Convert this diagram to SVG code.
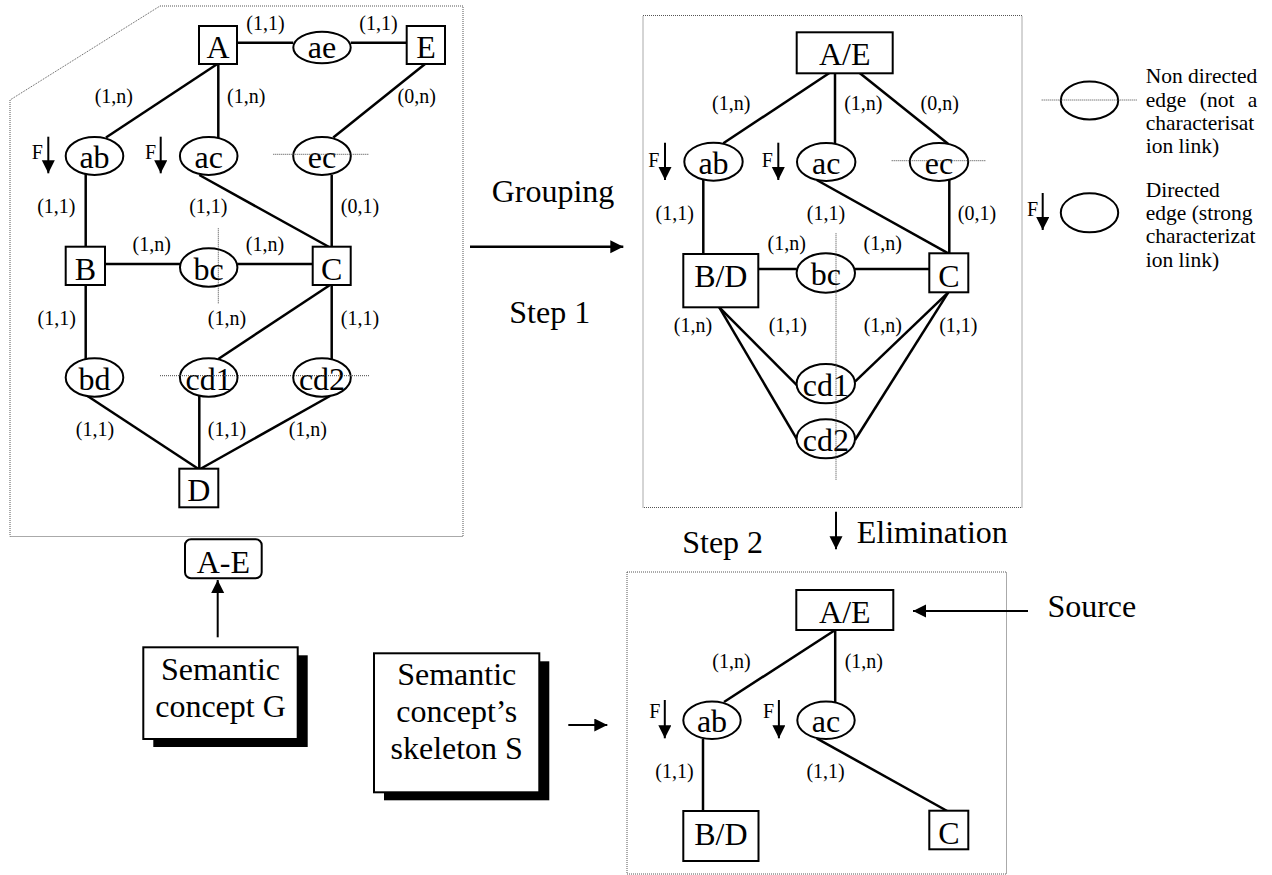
<svg xmlns="http://www.w3.org/2000/svg" width="1272" height="875" viewBox="0 0 1272 875">
  <style>
    text { font-family: "Liberation Serif", "Times New Roman", serif; fill: #000; }
    .lbl { font-size: 32px; text-anchor: middle; }
    .big { font-size: 32px; }
    .card { font-size: 20px; text-anchor: middle; }
    .f { font-size: 20px; }
    .leg { font-size: 21.5px; }
    .ent { fill: #fff; stroke: #000; stroke-width: 2; }
    .rel { fill: #fff; stroke: #000; stroke-width: 2; }
    .edge { stroke: #000; stroke-width: 2.5; fill: none; }
    .arrow { stroke: #000; stroke-width: 2; fill: none; marker-end: url(#head); }
    .dot { stroke: #444; stroke-width: 1; stroke-dasharray: 1 1; fill: none; }
    .frame { stroke: #555; stroke-width: 1; stroke-dasharray: 1 1; fill: none; }
  </style>
  <defs>
    <marker id="head" markerUnits="userSpaceOnUse" markerWidth="14" markerHeight="14" refX="13" refY="6.5" orient="auto">
      <path d="M0,0 L13,6.5 L0,13 z" fill="#000"/>
    </marker>
  </defs>

  <rect width="1272" height="875" fill="#fff"/>

  <!-- panel frames -->
  <g id="frames">
    <polygon class="frame" points="160,6 463,6 463,536.5 10,536.5 10,100"/>
    <rect class="frame" x="643" y="15.5" width="379" height="492"/>
    <rect class="frame" x="627" y="572" width="379.5" height="302"/>
  </g>

  <!-- connectors -->
  <g id="connectors">
    <!-- graph G -->
    <line class="edge" x1="237" y1="42.7" x2="293.3" y2="42.7"/>
    <line class="edge" x1="350.7" y1="42.7" x2="406.7" y2="42.7"/>
    <line class="edge" x1="217.3" y1="64" x2="106" y2="137.5"/>
    <line class="edge" x1="218.3" y1="64" x2="218.3" y2="138"/>
    <line class="edge" x1="425" y1="64" x2="333.3" y2="137.5"/>
    <line class="edge" x1="85.7" y1="174" x2="85.7" y2="246.7"/>
    <line class="edge" x1="199.3" y1="175" x2="330" y2="247.5"/>
    <line class="edge" x1="331.7" y1="175" x2="331.7" y2="247"/>
    <line class="edge" x1="105" y1="264" x2="180" y2="264"/>
    <line class="edge" x1="237.3" y1="264" x2="312.7" y2="264"/>
    <line class="edge" x1="85.7" y1="285" x2="85.7" y2="359"/>
    <line class="edge" x1="330" y1="285" x2="218.3" y2="359"/>
    <line class="edge" x1="331.7" y1="285" x2="331.7" y2="359"/>
    <line class="edge" x1="86" y1="395" x2="199.3" y2="469.5"/>
    <line class="edge" x1="199.3" y1="396" x2="199.3" y2="469"/>
    <line class="edge" x1="330" y1="396" x2="199.3" y2="469.5"/>

    <!-- grouped graph -->
    <line class="edge" x1="835" y1="69.3" x2="723.3" y2="143.3"/>
    <line class="edge" x1="835" y1="73" x2="835" y2="144"/>
    <line class="edge" x1="855" y1="69.3" x2="948.3" y2="144"/>
    <line class="edge" x1="703.3" y1="180" x2="703.3" y2="254"/>
    <line class="edge" x1="816.7" y1="180" x2="948.3" y2="253.3"/>
    <line class="edge" x1="949.3" y1="180" x2="949.3" y2="253.3"/>
    <line class="edge" x1="758.3" y1="269" x2="796.7" y2="269"/>
    <line class="edge" x1="855" y1="269" x2="929.3" y2="269"/>
    <line class="edge" x1="719.3" y1="307.3" x2="798.3" y2="386.7"/>
    <line class="edge" x1="719.3" y1="307.3" x2="798.3" y2="441.7"/>
    <line class="edge" x1="948.3" y1="292.3" x2="855" y2="381.7"/>
    <line class="edge" x1="948.3" y1="292.3" x2="855" y2="440"/>

    <!-- skeleton -->
    <line class="edge" x1="835.2" y1="630" x2="724" y2="702"/>
    <line class="edge" x1="835.2" y1="630" x2="835.2" y2="702"/>
    <line class="edge" x1="703" y1="739" x2="703" y2="811"/>
    <line class="edge" x1="816.7" y1="738.3" x2="948.1" y2="811.5"/>

    <!-- process arrows -->
    <line class="arrow" x1="470" y1="246.7" x2="623.3" y2="246.7" style="stroke-width:2.5"/>
    <line class="arrow" x1="836" y1="511.7" x2="836" y2="549.3"/>
    <line class="arrow" x1="1028" y1="611" x2="913" y2="611"/>
    <line class="arrow" x1="568.3" y1="725" x2="607.3" y2="725"/>
    <line class="arrow" x1="217.7" y1="637.3" x2="217.7" y2="580"/>

    <!-- F (strong characterisation) arrows -->
    <line class="arrow" x1="48.3" y1="136.7" x2="48.3" y2="173.3"/>
    <line class="arrow" x1="160.7" y1="136.7" x2="160.7" y2="173.3"/>
    <line class="arrow" x1="665" y1="142.7" x2="665" y2="180"/>
    <line class="arrow" x1="778.3" y1="142.7" x2="778.3" y2="180"/>
    <line class="arrow" x1="664.8" y1="700" x2="664.8" y2="738.3"/>
    <line class="arrow" x1="778.9" y1="700" x2="778.9" y2="738.3"/>
    <line class="arrow" x1="1042.7" y1="193" x2="1042.7" y2="230"/>
  </g>

  <!-- graph G nodes -->
  <g id="g-A"><rect class="ent" x="199" y="26" width="38" height="38"/><text class="lbl" x="218" y="58">A</text></g>
  <g id="g-ae"><ellipse class="rel" cx="322" cy="47.5" rx="28.7" ry="15.8"/><text class="lbl" x="322" y="58">ae</text></g>
  <g id="g-E"><rect class="ent" x="406.7" y="26" width="38.3" height="38"/><text class="lbl" x="426" y="58">E</text></g>
  <g id="g-ab"><ellipse class="rel" cx="94.5" cy="156" rx="28.8" ry="19"/><text class="lbl" x="94.5" y="168">ab</text></g>
  <g id="g-ac"><ellipse class="rel" cx="208.7" cy="156" rx="28.8" ry="19"/><text class="lbl" x="208.7" y="168">ac</text></g>
  <g id="g-ec"><ellipse class="rel" cx="322" cy="156" rx="28.8" ry="19"/><text class="lbl" x="322" y="168">ec</text></g>
  <g id="g-B"><rect class="ent" x="65.7" y="246.7" width="39.3" height="38.3"/><text class="lbl" x="85.3" y="280">B</text></g>
  <g id="g-bc"><ellipse class="rel" cx="208.7" cy="267.5" rx="28.7" ry="19.2"/><text class="lbl" x="208.7" y="279.5">bc</text></g>
  <g id="g-C"><rect class="ent" x="312.7" y="246.7" width="38" height="38.3"/><text class="lbl" x="331.7" y="280">C</text></g>
  <g id="g-bd"><ellipse class="rel" cx="94.5" cy="377.5" rx="28.8" ry="19.2"/><text class="lbl" x="94.5" y="389.5">bd</text></g>
  <g id="g-cd1"><ellipse class="rel" cx="208.7" cy="377.5" rx="28.8" ry="19.2"/><text class="lbl" x="208.7" y="389.5">cd1</text></g>
  <g id="g-cd2"><ellipse class="rel" cx="322" cy="377.5" rx="28.8" ry="19.2"/><text class="lbl" x="322" y="389.5">cd2</text></g>
  <g id="g-D"><rect class="ent" x="179.3" y="468.7" width="39" height="38.6"/><text class="lbl" x="198.8" y="501">D</text></g>

  <!-- grouped graph nodes -->
  <g id="s1-AE"><rect class="ent" x="796.7" y="32.3" width="96" height="41"/><text class="lbl" x="844.7" y="65">A/E</text></g>
  <g id="s1-ab"><ellipse class="rel" cx="713.5" cy="161.7" rx="29.2" ry="19"/><text class="lbl" x="713.5" y="173.7">ab</text></g>
  <g id="s1-ac"><ellipse class="rel" cx="826.2" cy="162" rx="29.2" ry="19"/><text class="lbl" x="826.2" y="174">ac</text></g>
  <g id="s1-ec"><ellipse class="rel" cx="939" cy="162" rx="29.2" ry="19"/><text class="lbl" x="939" y="174">ec</text></g>
  <g id="s1-BD"><rect class="ent" x="683.3" y="254" width="75" height="53.3"/><text class="lbl" x="720.8" y="287">B/D</text></g>
  <g id="s1-bc"><ellipse class="rel" cx="825.8" cy="273" rx="29.2" ry="19.7"/><text class="lbl" x="825.8" y="285">bc</text></g>
  <g id="s1-C"><rect class="ent" x="929.3" y="253.3" width="39" height="39"/><text class="lbl" x="948.8" y="286.5">C</text></g>
  <g id="s1-cd1"><ellipse class="rel" cx="825.8" cy="383.7" rx="29.2" ry="19.6"/><text class="lbl" x="825.8" y="395.7">cd1</text></g>
  <g id="s1-cd2"><ellipse class="rel" cx="825.8" cy="438.8" rx="29.2" ry="19.5"/><text class="lbl" x="825.8" y="450.8">cd2</text></g>

  <!-- skeleton nodes -->
  <g id="s2-AE"><rect class="ent" x="796.3" y="590" width="97" height="40"/><text class="lbl" x="844.8" y="622.7">A/E</text></g>
  <g id="s2-ab"><ellipse class="rel" cx="712" cy="720.3" rx="28.7" ry="18.7"/><text class="lbl" x="712" y="732">ab</text></g>
  <g id="s2-ac"><ellipse class="rel" cx="826" cy="720.3" rx="28.7" ry="18.7"/><text class="lbl" x="826" y="732">ac</text></g>
  <g id="s2-BD"><rect class="ent" x="683.3" y="811" width="75.2" height="50"/><text class="lbl" x="720.9" y="845">B/D</text></g>
  <g id="s2-C"><rect class="ent" x="929.3" y="810.7" width="39" height="38.6"/><text class="lbl" x="948.8" y="844">C</text></g>

  <!-- concept boxes -->
  <g id="concept-AE"><rect class="ent" x="185" y="539.3" width="76.7" height="39" rx="6"/><text class="lbl" x="223.3" y="572.5">A-E</text></g>
  <g id="concept-G">
    <rect x="153.3" y="655.3" width="154.4" height="91.7" fill="#000"/>
    <rect class="ent" x="143.3" y="647.3" width="154.4" height="91.7"/>
    <text class="lbl" x="220.5" y="680">Semantic</text>
    <text class="lbl" x="220.5" y="716.7">concept G</text>
  </g>
  <g id="skeleton-S">
    <rect x="384" y="661.3" width="165.3" height="139" fill="#000"/>
    <rect class="ent" x="374" y="653.3" width="165.3" height="139"/>
    <text class="lbl" x="456.7" y="685">Semantic</text>
    <text class="lbl" x="456.7" y="722">concept’s</text>
    <text class="lbl" x="456.7" y="759">skeleton S</text>
  </g>

  <!-- legend -->
  <g id="legend-undirected">
    <ellipse class="rel" cx="1089.5" cy="100.5" rx="28.7" ry="19"/>
    <text class="leg" x="1145.7" y="83">Non directed</text>
    <text class="leg" y="106.5"><tspan x="1145.7">edge</tspan><tspan x="1199.8">(not</tspan><tspan x="1247.8">a</tspan></text>
    <text class="leg" x="1145.7" y="130">characterisat</text>
    <text class="leg" x="1145.7" y="153">ion link)</text>
  </g>
  <g id="legend-directed">
    <ellipse class="rel" cx="1089.5" cy="212.8" rx="28.7" ry="19.5"/>
    <text class="f" x="1027" y="216">F</text>
    <text class="leg" x="1145.7" y="196.7">Directed</text>
    <text class="leg" x="1145.7" y="220">edge (strong</text>
    <text class="leg" x="1145.7" y="243.3">characterizat</text>
    <text class="leg" x="1145.7" y="266.7">ion link)</text>
  </g>

  <!-- non-directed edge marks -->
  <g id="marks">
    <line class="dot" x1="273.3" y1="154.3" x2="368.3" y2="154.3"/>
    <line class="dot" x1="218.3" y1="228.3" x2="218.3" y2="303.3"/>
    <line class="dot" x1="160" y1="375.7" x2="369.3" y2="375.7"/>
    <line class="dot" x1="891.7" y1="160.7" x2="986" y2="160.7"/>
    <line class="dot" x1="836" y1="233.3" x2="836" y2="480"/>
    <line class="dot" x1="1041.7" y1="100" x2="1136.7" y2="100"/>
  </g>

  <!-- cardinalities -->
  <g id="cardinalities">
    <text class="card" x="265.5" y="30">(1,1)</text>
    <text class="card" x="378.5" y="30">(1,1)</text>
    <text class="card" x="113.8" y="103">(1,n)</text>
    <text class="card" x="246.2" y="103">(1,n)</text>
    <text class="card" x="416.7" y="103">(0,n)</text>
    <text class="card" x="56.3" y="213">(1,1)</text>
    <text class="card" x="208.3" y="213">(1,1)</text>
    <text class="card" x="360" y="213">(0,1)</text>
    <text class="card" x="151.7" y="251">(1,n)</text>
    <text class="card" x="265" y="251">(1,n)</text>
    <text class="card" x="56.7" y="325">(1,1)</text>
    <text class="card" x="227" y="325">(1,n)</text>
    <text class="card" x="360" y="325">(1,1)</text>
    <text class="card" x="95" y="436">(1,1)</text>
    <text class="card" x="227" y="436">(1,1)</text>
    <text class="card" x="307.8" y="436">(1,n)</text>

    <text class="card" x="731.2" y="110">(1,n)</text>
    <text class="card" x="863.3" y="110">(1,n)</text>
    <text class="card" x="939.7" y="110">(0,n)</text>
    <text class="card" x="674.7" y="220">(1,1)</text>
    <text class="card" x="826" y="220">(1,1)</text>
    <text class="card" x="977" y="220">(0,1)</text>
    <text class="card" x="786.7" y="250">(1,n)</text>
    <text class="card" x="882.7" y="250">(1,n)</text>
    <text class="card" x="693" y="331.5">(1,n)</text>
    <text class="card" x="787.8" y="331.5">(1,1)</text>
    <text class="card" x="882.8" y="331.5">(1,n)</text>
    <text class="card" x="958.3" y="331.5">(1,1)</text>

    <text class="card" x="731.5" y="668">(1,n)</text>
    <text class="card" x="863.8" y="668">(1,n)</text>
    <text class="card" x="674.4" y="778">(1,1)</text>
    <text class="card" x="825.6" y="778">(1,1)</text>
  </g>

  <!-- F marks -->
  <g id="f-marks">
    <text class="f" x="31.7" y="159.3">F</text>
    <text class="f" x="145" y="159.3">F</text>
    <text class="f" x="648.3" y="166.5">F</text>
    <text class="f" x="761.7" y="166.5">F</text>
    <text class="f" x="649.3" y="718.3">F</text>
    <text class="f" x="763" y="718.3">F</text>
  </g>

  <!-- step captions -->
  <g id="captions">
    <text class="big" x="491.7" y="201.7">Grouping</text>
    <text class="big" x="509.3" y="323.3">Step 1</text>
    <text class="big" x="856.7" y="543.3">Elimination</text>
    <text class="big" x="682.2" y="553.3">Step 2</text>
    <text class="big" x="1047.4" y="617.3">Source</text>
  </g>
</svg>
